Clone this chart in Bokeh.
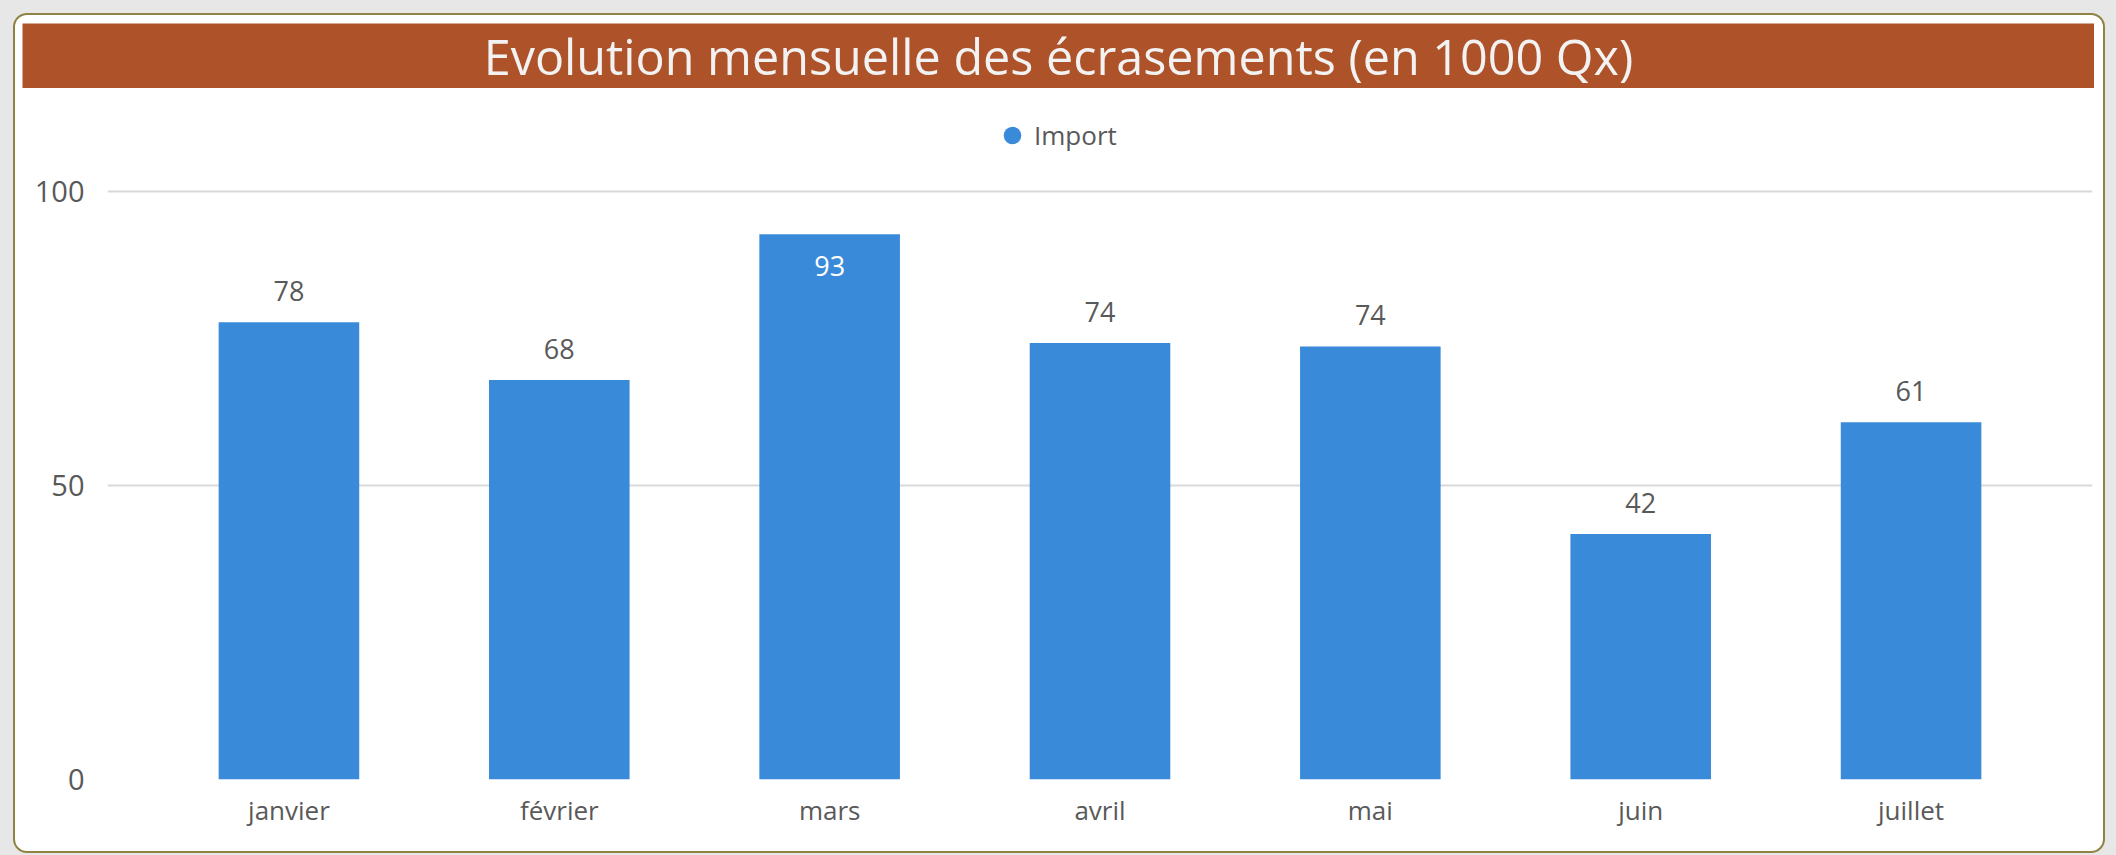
from bokeh.plotting import figure
from bokeh.models import (ColumnDataSource, FactorRange, Range1d, FixedTicker, Label,
                          Legend, LegendItem, GlobalInlineStyleSheet)
from bokeh.layouts import column
from bokeh.embed import file_html
from bokeh.resources import INLINE
from bokeh.core.properties import value

# ---------------- data ----------------
title_text = "Evolution mensuelle des écrasements (en 1000 Qx)"
months = ["janvier", "février", "mars", "avril", "mai", "juin", "juillet"]
imports = [77.8, 68.0, 92.8, 74.3, 73.7, 41.8, 60.8]
series_name = "Import"
y_ticks = [0, 50, 100]

# ---------------- style ----------------
FONT = "Open Sans"
BAR = "#398BD9"
BAND = "#AE5229"
GREY_TXT = "#595959"
GRID = "#D9D9D9"
BORDER = "#8E8343"
W = 2072

labels = [f"{round(v):d}" for v in imports]
inside = [v > 90 for v in imports]
label_color = ["#FFFFFF" if i else GREY_TXT for i in inside]
label_offset = [32 if i else -31 for i in inside]

src = ColumnDataSource(dict(month=months, value=imports, label=labels,
                            lcolor=label_color, loff=label_offset))

# ---------------- title band ----------------
t = figure(width=W, height=65, x_range=Range1d(0, 1), y_range=Range1d(0, 1),
           x_axis_location=None, y_axis_location=None, min_border=0,
           toolbar_location=None, output_backend="svg",
           background_fill_color=BAND, border_fill_color=BAND,
           outline_line_color=None)
t.grid.visible = False

can_unalign = "frame_align" in t.properties()
if can_unalign:
    t.frame_align = False

t.add_layout(Label(x=0.5, y=0.5, x_offset=0 if can_unalign else -41,
                   text=title_text, text_align="center",
                   text_baseline="middle", text_font=FONT, text_font_size="48.5px",
                   text_color="#F2F2F2"))

# ---------------- main chart ----------------
p = figure(x_range=FactorRange(factors=months, range_padding=0.0489,
                               range_padding_units="percent"),
           y_range=Range1d(0, 115.9),
           width=W, height=761, output_backend="svg", toolbar_location=None,
           min_border_left=85, min_border_right=2, min_border_top=10,
           min_border_bottom=70, outline_line_color=None,
           background_fill_color="white", border_fill_color="white")
if can_unalign:
    p.frame_align = False

p.vbar(x="month", top="value", width=0.52, source=src,
       fill_color=BAR, line_color=None)

r_leg = p.scatter(x="month", y="value", size=0, marker="circle", source=src,
                  fill_color=BAR, line_color=None)

p.text(x="month", y="value", text="label", y_offset="loff", text_color="lcolor",
       text_align="center", text_baseline="alphabetic",
       text_font=value(FONT), text_font_size="27px", source=src)

legend = Legend(items=[LegendItem(label=series_name, renderers=[r_leg])],
                location=(883, 618), orientation="horizontal",
                glyph_width=44, glyph_height=52, label_standoff=0,
                padding=0, margin=0, spacing=0,
                border_line_color=None, background_fill_alpha=0,
                label_text_font=FONT, label_text_font_size="26px",
                label_text_color=GREY_TXT)
p.add_layout(legend)

for ax in (p.xaxis, p.yaxis):
    ax.axis_line_color = None
    ax.major_tick_line_color = None
    ax.minor_tick_line_color = None
    ax.major_label_text_color = GREY_TXT
    ax.major_label_text_font = FONT
    ax.major_label_text_font_size = "26px"

p.xaxis.major_label_standoff = 6
p.yaxis.ticker = FixedTicker(ticks=y_ticks)
p.yaxis.major_label_standoff = 17
p.yaxis.major_label_text_font_size = "29px"

p.xgrid.grid_line_color = None
p.ygrid.ticker = FixedTicker(ticks=y_ticks)
p.ygrid.grid_line_color = GRID
p.ygrid.grid_line_width = 2

layout = column(
    t, p,
    styles={
        "border": f"2px solid {BORDER}",
        "border-radius": "14px",
        "padding": "8px 9px 2px 7px",
        "background-color": "white",
    },
    stylesheets=[GlobalInlineStyleSheet(
        css="body { margin: 13px 0 0 13px; background-color: #E7E7E7; }")],
)

open("out.html", "w").write(file_html(layout, INLINE))
